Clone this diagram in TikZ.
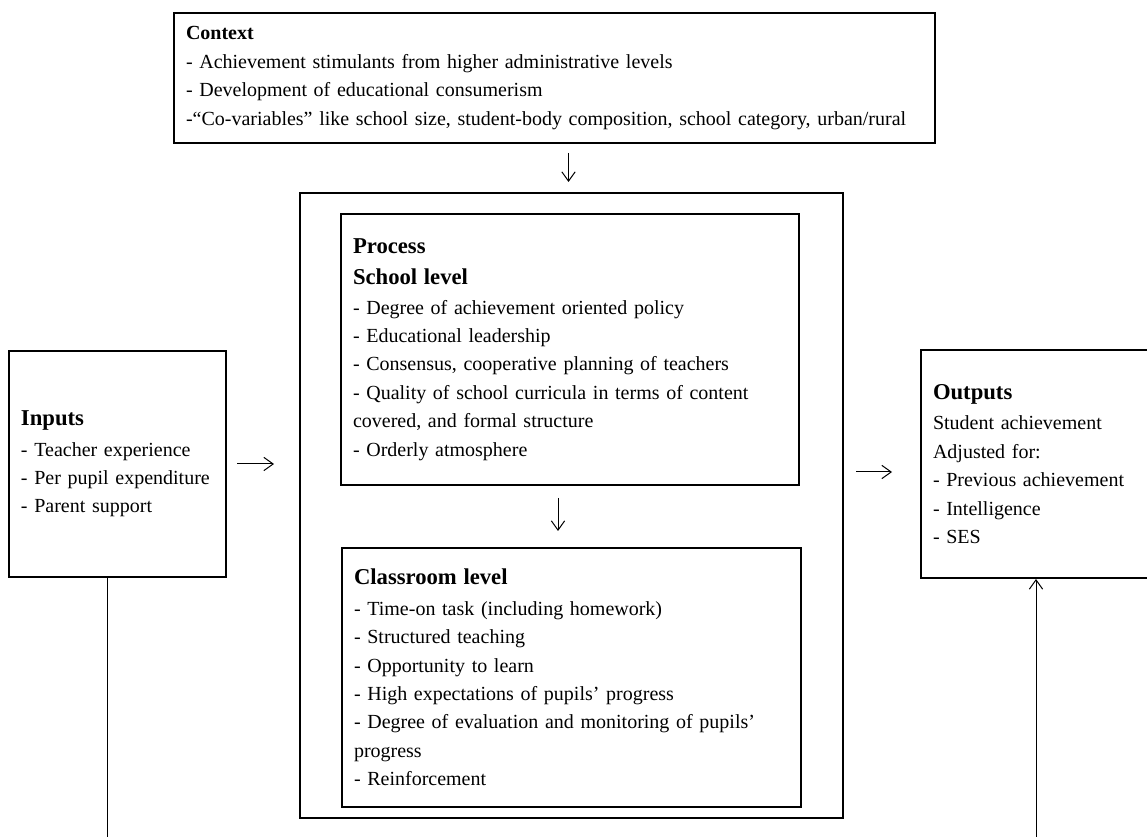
\documentclass[tikz,border=0pt]{standalone}
\usepackage{fontspec}
\setmainfont{Liberation Serif}
\usepackage{tikz}
\usetikzlibrary{arrows.meta}
\tikzset{
  every picture/.style={line join=miter, >={Straight Barb[length=7pt,width=10pt]}},
  box/.style={draw, rectangle, line width=1.5pt, inner xsep=9pt, inner ysep=0pt,
    align=left, font=\fontsize{15}{21.3}\selectfont},
  link/.style={->, line width=0.75pt},
}
\newcommand{\hd}[1]{{\bfseries\fontsize{17}{21.3}\selectfont #1}}

\begin{document}
\begin{tikzpicture}[x=0.75pt,y=-0.75pt]
\useasboundingbox (0,0) rectangle (1147,837);
% boxes
\node[box,text width=552.75pt,minimum height=97.5pt] (context) at (554.5,78) {\textbf{Context}\\
- Achievement stimulants from higher administrative levels\\
- Development of educational consumerism\\
-“Co-variables” like school size, student-body composition, school category, urban/rural};
\node[draw,line width=1.5pt,minimum width=407.25pt,minimum height=468.75pt] (procbox) at (571.5,505.5) {};
\node[box,text width=325.5pt,minimum height=203.25pt] (school) at (570,349.5) {\hd{Process}\\[2pt]
\hd{School level}\\[1pt]
- Degree of achievement oriented policy\\
- Educational leadership\\
- Consensus, cooperative planning of teachers\\
- Quality of school curricula in terms of content\\
covered, and formal structure\\
- Orderly atmosphere};
\node[box,text width=326.25pt,minimum height=194.25pt] (classroom) at (571.5,677.5) {\hd{Classroom level}\\[1.5pt]
- Time-on task (including homework)\\
- Structured teaching\\
- Opportunity to learn\\
- High expectations of pupils’ progress\\
- Degree of evaluation and monitoring of pupils’\\
progress\\
- Reinforcement};
\node[box,text width=144.75pt,minimum height=169.5pt] (inputs) at (117.5,464) {\hd{Inputs}\\[1.5pt]
- Teacher experience\\
- Per pupil expenditure\\
- Parent support};
\node[box,text width=154.5pt,minimum height=171pt] (outputs) at (1036,464) {\hd{Outputs}\\[1.5pt]
Student achievement\\
Adjusted for:\\
- Previous achievement\\
- Intelligence\\
- SES};
\coordinate (inlow) at (107,837);
\coordinate (outlow) at (1036,837);
% connectors
\draw[link,shorten <=6.75pt,shorten >=7.5pt] ([xshift=-2.25pt]procbox.north |- context.south) -- ([xshift=-2.25pt]procbox.north);
\draw[link,shorten <=9pt,shorten >=12pt] ([xshift=-9pt]school.south) -- ([xshift=-9pt]school.south |- classroom.north);
\draw[link,shorten <=7.5pt,shorten >=18.75pt] (inputs.east) -- (inputs.east -| procbox.west);
\draw[link,shorten <=9pt,shorten >=21pt] ([yshift=-6pt]procbox.east |- outputs.west) -- ([yshift=-6pt]outputs.west);
\draw[line width=0.75pt] (inlow |- inputs.south) -- (inlow);
\draw[link] (outlow) -- (outlow |- outputs.south);
\end{tikzpicture}
\end{document}
